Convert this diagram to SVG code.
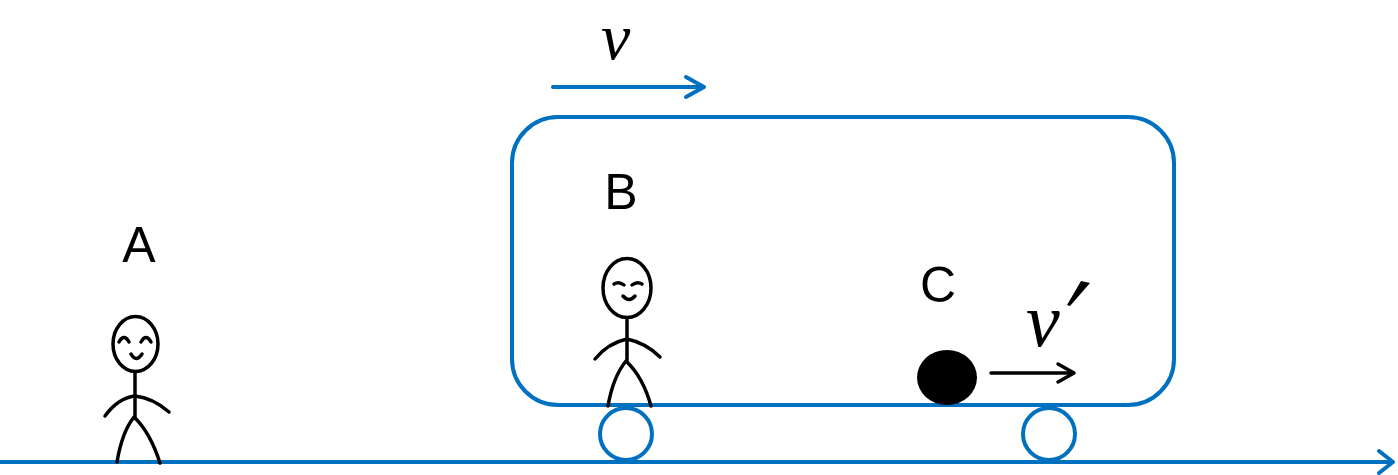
<svg xmlns="http://www.w3.org/2000/svg" width="1398" height="475" viewBox="0 0 1398 475">
  <style>
    .blue { fill: none; stroke: #0070C0; stroke-width: 4; stroke-linecap: round; stroke-linejoin: round; }
    .ink { fill: none; stroke: #000; stroke-width: 3.5; stroke-linecap: round; stroke-linejoin: round; }
    .label { font-family: "Liberation Sans", Arial, sans-serif; font-size: 50px; fill: #000; text-anchor: middle; }
    .math { font-family: "Liberation Serif", "Times New Roman", serif; font-style: italic; fill: #000; }
  </style>

  <!-- ground -->
  <g id="ground">
    <path class="blue" d="M 0 462 H 1392"/>
    <path class="blue" d="M 1379 451 L 1393 462 L 1379 473"/>
  </g>

  <!-- cart body and wheels -->
  <g id="cart">
    <rect class="blue" x="512" y="117" width="662" height="288" rx="46" ry="46"/>
    <circle class="blue" cx="626" cy="434" r="26"/>
    <circle class="blue" cx="1049" cy="434" r="26"/>
  </g>

  <!-- cart velocity -->
  <g id="cart-velocity">
    <path class="blue" d="M 553 87 H 703"/>
    <path class="blue" d="M 686 77 L 704 87 L 686 97"/>
    <text class="math" x="601" y="59" font-size="66">v</text>
  </g>

  <!-- observer A on the ground -->
  <g id="person-a">
    <text class="label" x="139" y="262">A</text>
    <ellipse class="ink" cx="135.5" cy="344" rx="22.5" ry="27.5"/>
    <path class="ink" d="M 119 342 Q 124 333 129 342 M 141 342 Q 146 333 151 342"/>
    <path class="ink" d="M 131 354 Q 136 363 142 354"/>
    <path class="ink" d="M 135 372 V 417"/>
    <path class="ink" d="M 105 416 Q 118 398 135 396 Q 153 398 169 412"/>
    <path class="ink" d="M 117 462 Q 122 432 134 417 Q 150 432 160 463"/>
  </g>

  <!-- observer B in the cart -->
  <g id="person-b">
    <text class="label" x="621" y="209">B</text>
    <ellipse class="ink" cx="627" cy="288" rx="24" ry="29.5"/>
    <path class="ink" d="M 614 284 Q 619 281 624 285 M 632 285 Q 637 281 642 284"/>
    <path class="ink" d="M 623 296 Q 629 303 635 296"/>
    <path class="ink" d="M 627 318 V 361"/>
    <path class="ink" d="M 595 359 Q 608 343 627 339 Q 646 343 660 357"/>
    <path class="ink" d="M 608 406 Q 613 377 626 361 Q 643 377 651 406"/>
  </g>

  <!-- ball C -->
  <g id="ball-c">
    <text class="label" x="938" y="302">C</text>
    <ellipse cx="947" cy="377.5" rx="30" ry="27.5" fill="#000"/>
  </g>

  <!-- ball velocity -->
  <g id="ball-velocity">
    <path class="ink" d="M 991 373 H 1073"/>
    <path class="ink" d="M 1058 364 L 1074 373 L 1058 382"/>
    <text class="math" x="1026" y="346" font-size="76">v</text>
    <path d="M 1081 281 L 1090 283 L 1070 306 L 1067 305 Z" fill="#000"/>
  </g>
</svg>
